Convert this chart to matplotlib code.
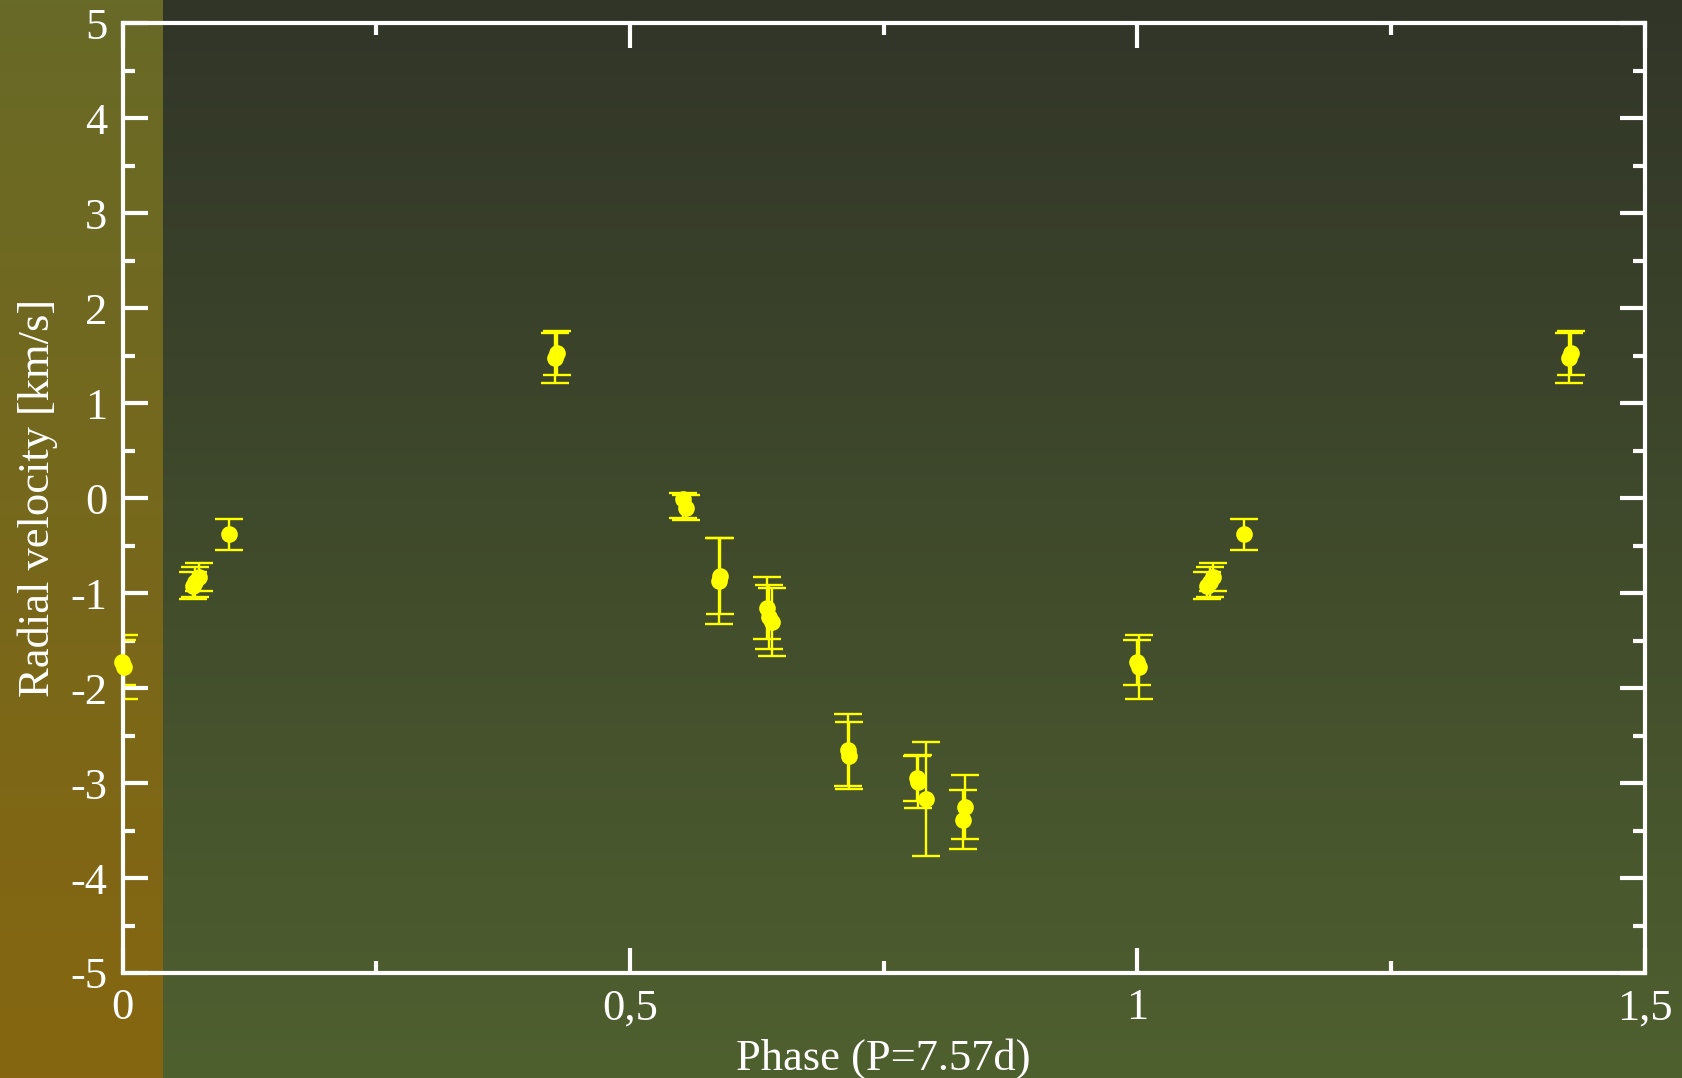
import numpy as np
import matplotlib
matplotlib.use("Agg")
import matplotlib.pyplot as plt
from matplotlib.ticker import MultipleLocator, FixedLocator

# folded radial velocity data, phases in [0,1)
phase = [0.0016, 0.0690, 0.0716, 0.0749, 0.1050, 0.4258, 0.4280, 0.5523, 0.5547,
         0.5875, 0.5885, 0.6348, 0.6371, 0.6395, 0.7145, 0.7157, 0.7825, 0.7841,
         0.7917, 0.8285, 0.8302, 0.9996]
rv = [-1.78, -0.92, -0.88, -0.83, -0.38, 1.475, 1.527, -0.01, -0.10,
      -0.87, -0.82, -1.155, -1.25, -1.307, -2.65, -2.712, -2.95, -2.985,
      -3.17, -3.384, -3.248, -1.73]
err_lo = [0.34, 0.146, 0.158, 0.145, 0.165, 0.26, 0.231, 0.20, 0.13,
          0.45, 0.40, 0.33, 0.34, 0.36, 0.38, 0.354, 0.24, 0.277,
          0.60, 0.315, 0.336, 0.24]
err_hi = [0.34, 0.146, 0.158, 0.145, 0.165, 0.26, 0.231, 0.06, 0.13,
          0.45, 0.40, 0.33, 0.34, 0.36, 0.38, 0.354, 0.24, 0.277,
          0.60, 0.315, 0.336, 0.24]

xticks = [0, 0.5, 1, 1.5]
xticklabels = ["0", "0,5", "1", "1,5"]
yticks = list(range(-5, 6))

plt.rcParams['font.family'] = ['Liberation Serif', 'DejaVu Serif']
plt.rcParams['axes.unicode_minus'] = False

W, H = 1682, 1078
fig = plt.figure(figsize=(W / 100, H / 100), dpi=100)

# background gradients: olive strip on the left, dark green panel on the right
bg = fig.add_axes([0, 0, 1, 1])
bg.set_axis_off()
bg.set_xlim(0, 1)
bg.set_ylim(0, 1)
strip = 163 / W
t = np.linspace(0, 1, 256)[:, None]
left_top = np.array([104, 106, 39]) / 255
left_bot = np.array([134, 102, 16]) / 255
main_top = np.array([49, 53, 40]) / 255
main_bot = np.array([79, 96, 47]) / 255
img_l = (left_top * (1 - t) + left_bot * t)[:, None, :].repeat(2, axis=1)
img_m = (main_top * (1 - t) + main_bot * t)[:, None, :].repeat(2, axis=1)
bg.imshow(img_l, extent=[0, strip, 0, 1], aspect='auto', origin='upper')
bg.imshow(img_m, extent=[strip, 1, 0, 1], aspect='auto', origin='upper')

ax = fig.add_axes([122.8 / W, 1 - 973 / H, (1644.5 - 122.8) / W, (973 - 23.3) / H])
ax.patch.set_alpha(0)

ph = np.array(phase)
y = np.array(rv)
lo = np.array(err_lo)
hi = np.array(err_hi)
xs = np.concatenate([ph, ph + 1, ph - 1])
ys = np.concatenate([y, y, y])
los = np.concatenate([lo, lo, lo])
his = np.concatenate([hi, hi, hi])
keep = (xs > -0.01) & (xs < 1.5)
xs, ys, los, his = xs[keep], ys[keep], los[keep], his[keep]

ax.errorbar(xs, ys, yerr=[los, his], fmt='none', ecolor='#ffff00',
            elinewidth=1.7, capsize=10, capthick=1.7, zorder=2)
ax.plot(xs, ys, 'o', color='#ffff00', markersize=12, markeredgewidth=0,
        clip_on=False, zorder=3)

ax.set_xlim(0, 1.5)
ax.set_ylim(-5, 5)
ax.xaxis.set_major_locator(FixedLocator(xticks))
ax.set_xticklabels(xticklabels)
ax.xaxis.set_minor_locator(MultipleLocator(0.25))
ax.yaxis.set_major_locator(FixedLocator(yticks))
ax.set_yticklabels([str(v) for v in yticks])
ax.yaxis.set_minor_locator(MultipleLocator(0.5))

for s in ax.spines.values():
    s.set_color('white')
    s.set_linewidth(3)
ax.tick_params(which='both', direction='in', top=True, right=True,
               colors='white', width=3, labelsize=32, pad=11)
ax.tick_params(which='major', length=18)
ax.tick_params(which='minor', length=8.5)

ax.set_xlabel("Phase (P=7.57d)", color='white', fontsize=32, labelpad=7)
ax.set_ylabel("Radial velocity [km/s]", color='white', fontsize=32, labelpad=9)

fig.savefig("out.png", dpi=100)
